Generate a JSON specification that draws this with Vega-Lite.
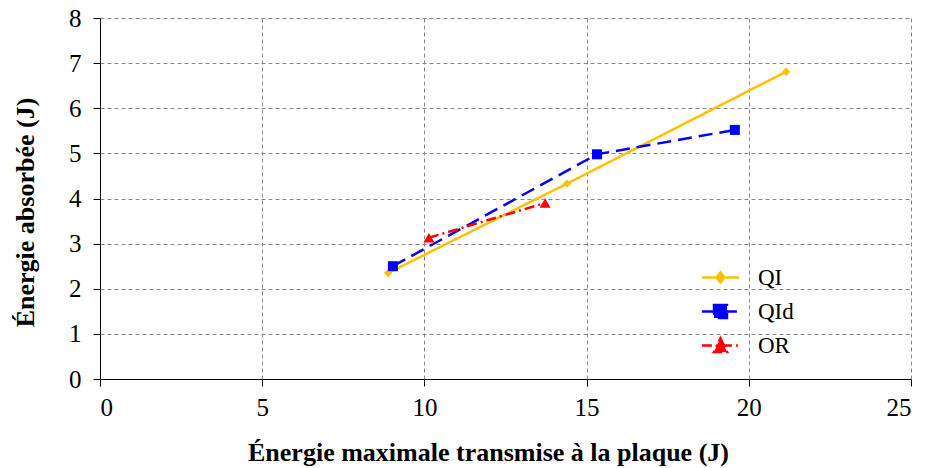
{
  "$schema": "https://vega.github.io/schema/vega-lite/v6.json",
  "width": 811,
  "height": 361,
  "autosize": {"type": "none"},
  "padding": {"left": 100, "top": 18, "right": 14, "bottom": 89},
  "background": "white",
  "config": {
    "view": {"stroke": null},
    "font": "Liberation Serif",
    "axis": {
      "labelFont": "Liberation Serif",
      "titleFont": "Liberation Serif",
      "labelColor": "#000",
      "titleColor": "#000",
      "domainColor": "#000",
      "tickColor": "#000",
      "tickSize": 7,
      "gridColor": "#888",
      "gridDash": [4, 3],
      "gridWidth": 1
    }
  },
  "data": {
    "values": [
      {"serie": "QI", "x": 8.88, "y": 2.35},
      {"serie": "QI", "x": 14.4, "y": 4.33},
      {"serie": "QI", "x": 21.15, "y": 6.81},
      {"serie": "QId", "x": 9.03, "y": 2.5},
      {"serie": "QId", "x": 15.32, "y": 4.98},
      {"serie": "QId", "x": 19.57, "y": 5.52},
      {"serie": "OR", "x": 10.14, "y": 3.13},
      {"serie": "OR", "x": 13.72, "y": 3.9}
    ]
  },
  "encoding": {
    "x": {
      "field": "x", "type": "quantitative",
      "scale": {"domain": [0, 25], "nice": false},
      "axis": {"values": [0, 5, 10, 15, 20, 25], "title": "Énergie maximale transmise à la plaque (J)", "titlePadding": 19, "labelPadding": 9, "titleX": 388,
        "labelFont": "Liberation Serif", "titleFont": "Liberation Serif", "labelFontSize": 25, "titleFontSize": 26, "titleFontWeight": "bold"}
    },
    "y": {
      "field": "y", "type": "quantitative",
      "scale": {"domain": [0, 8], "nice": false},
      "axis": {"values": [0, 1, 2, 3, 4, 5, 6, 7, 8], "title": "Énergie absorbée (J)", "titlePadding": 30, "labelPadding": 12, "titleY": 194,
        "labelFont": "Liberation Serif", "titleFont": "Liberation Serif", "labelFontSize": 25, "titleFontSize": 26, "titleFontWeight": "bold"}
    },
    "color": {
      "field": "serie", "type": "nominal",
      "scale": {"domain": ["QI", "QId", "OR"], "range": ["#FFC000", "#0000FF", "#FF0000"]},
      "legend": {
        "orient": "none", "legendX": 607, "legendY": 246, "title": null,
        "symbolSize": 576, "symbolStrokeWidth": 2,
        "labelFont": "Liberation Serif", "labelFontSize": 23, "labelColor": "#000",
        "labelOffset": 24, "rowPadding": 8,
        "encode": {
          "symbols": {
            "update": {
              "shape": {"signal": "datum.value === 'QI' ? 'M-1.55,0H1.55M0,-0.42L0.33,0L0,0.42L-0.33,0Z' : datum.value === 'QId' ? 'M-1.55,0H1.55M-0.54,-0.54H0.54V0.54H-0.54Z' : 'M-1.55,0H1.55M0,-0.6L0.55,0.55H-0.55Z'"},
              "fill": {"signal": "datum.value === 'QI' ? '#FFC000' : datum.value === 'QId' ? '#0000FF' : '#FF0000'"},
              "stroke": {"signal": "datum.value === 'QI' ? '#FFC000' : datum.value === 'QId' ? '#0000FF' : '#FF0000'"},
              "strokeWidth": {"value": 2.5},
              "strokeDash": {"signal": "datum.value === 'QI' ? [] : datum.value === 'QId' ? [10, 5] : [8, 4]"},
              "opacity": {"value": 1}
            }
          }
        }
      }
    }
  },
  "layer": [
    {
      "mark": {"type": "line", "strokeWidth": 2.5},
      "encoding": {
        "strokeDash": {
          "field": "serie", "type": "nominal",
          "scale": {"domain": ["QI", "QId", "OR"], "range": [[1, 0], [14, 7], [10, 4, 2, 4]]},
          "legend": null
        }
      }
    },
    {
      "transform": [{"filter": "datum.serie === 'QI'"}],
      "mark": {"type": "point", "filled": true, "opacity": 1, "shape": "diamond", "size": 70}
    },
    {
      "transform": [{"filter": "datum.serie === 'QId'"}],
      "mark": {"type": "point", "filled": true, "opacity": 1, "shape": "square", "size": 100}
    },
    {
      "transform": [{"filter": "datum.serie === 'OR'"}],
      "mark": {"type": "point", "filled": true, "opacity": 1, "shape": "triangle-up", "size": 120}
    }
  ]
}
